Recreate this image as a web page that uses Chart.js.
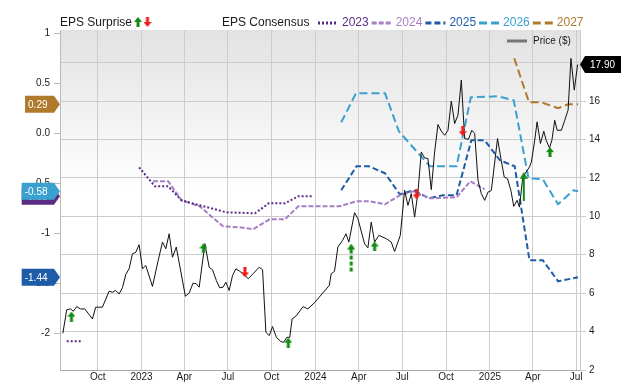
<!DOCTYPE html>
<html>
<head>
<meta charset="utf-8">
<title>EPS Consensus et cours</title>
<script src="https://cdn.jsdelivr.net/npm/chart.js@4.4.1/dist/chart.umd.min.js"></script>
<style>
  html, body { margin: 0; padding: 0; background: #fff; }
  #wrap { width: 640px; height: 382px; }
</style>
</head>
<body>
<div id="wrap"><canvas id="chart" width="640" height="382"></canvas></div>
<script>
// ── Données ──

const xMin = '2022-07-14';
const xMax = '2025-07-09';
const xTickDates = ['2022-10-01', '2023-01-01', '2023-04-01', '2023-07-01', '2023-10-01', '2024-01-01',
  '2024-04-01', '2024-07-01', '2024-10-01', '2025-01-01', '2025-04-01', '2025-07-01'];
const xTickLabels = ['Oct', '2023', 'Apr', 'Jul', 'Oct', '2024', 'Apr', 'Jul', 'Oct', '2025', 'Apr', 'Jul'];

const epsMin = -2.367;
const epsMax = 1.033;
const epsTicks = [1, 0.5, 0, -0.5, -1, -1.5, -2];
const epsTickLabels = ['1', '0.5', '0.0', '-0.5', '-1', '-1.5', '-2'];

const priceMin = 2;
const priceMax = 19.7;
const priceTicks = [2, 4, 6, 8, 10, 12, 14, 16, 18];

const priceDates = [
  '2022-07-20', '2022-07-28', '2022-08-05', '2022-08-11', '2022-08-18', '2022-08-26', '2022-09-04', '2022-09-20',
  '2022-09-27', '2022-10-11', '2022-10-25', '2022-11-01', '2022-11-08', '2022-11-15', '2022-11-22', '2022-11-29',
  '2022-12-06', '2022-12-13', '2022-12-20', '2022-12-27', '2023-01-03', '2023-01-10', '2023-01-24', '2023-02-05',
  '2023-02-14', '2023-02-21', '2023-02-28', '2023-03-07', '2023-03-15', '2023-04-03', '2023-04-11', '2023-04-19',
  '2023-04-26', '2023-05-02', '2023-05-14', '2023-05-23', '2023-05-30', '2023-06-07', '2023-06-14', '2023-06-21',
  '2023-06-27', '2023-07-04', '2023-07-11', '2023-07-18', '2023-07-26', '2023-08-04', '2023-08-13', '2023-08-23',
  '2023-09-05', '2023-09-12', '2023-09-19', '2023-09-26', '2023-10-03', '2023-10-11', '2023-10-20', '2023-10-26',
  '2023-11-02', '2023-11-08', '2023-11-13', '2023-11-22', '2023-12-06', '2023-12-16', '2023-12-31', '2024-01-16',
  '2024-01-30', '2024-02-03', '2024-02-10', '2024-02-17', '2024-02-27', '2024-03-05', '2024-03-11', '2024-03-23',
  '2024-03-30', '2024-04-13', '2024-04-20', '2024-04-27', '2024-05-04', '2024-05-13', '2024-05-29', '2024-06-08',
  '2024-06-15', '2024-06-27', '2024-07-06', '2024-07-13', '2024-07-20', '2024-07-27', '2024-08-03', '2024-08-10',
  '2024-08-17', '2024-08-24', '2024-08-31', '2024-09-07', '2024-09-14', '2024-09-21', '2024-09-28', '2024-10-05',
  '2024-10-12', '2024-10-19', '2024-10-26', '2024-11-02', '2024-11-09', '2024-11-17', '2024-11-24', '2024-11-30',
  '2024-12-07', '2024-12-14', '2024-12-21', '2024-12-28', '2025-01-04', '2025-01-17', '2025-01-24', '2025-01-31',
  '2025-02-07', '2025-02-14', '2025-02-20', '2025-02-27', '2025-03-04', '2025-03-11', '2025-03-18', '2025-03-25',
  '2025-03-29', '2025-04-05', '2025-04-10', '2025-04-17', '2025-04-24', '2025-04-29', '2025-05-06', '2025-05-11',
  '2025-05-17', '2025-05-22', '2025-05-31', '2025-06-07', '2025-06-14', '2025-06-20', '2025-06-27', '2025-07-04'];
const priceValues = [
  3.91, 5.13, 5.18, 5.06, 5.30, 5.18, 5.18, 4.66,
  5.27, 5.27, 6.10, 6.05, 6.14, 5.96, 6.28, 6.97,
  7.27, 8.05, 8.13, 8.52, 7.27, 7.44, 6.35, 7.70,
  8.66, 8.31, 9.09, 7.87, 8.40, 5.84, 6.00, 6.52,
  6.49, 6.31, 8.57, 7.35, 7.22, 6.66, 6.28, 6.31,
  6.57, 6.14, 6.92, 7.27, 7.14, 6.97, 6.75, 7.01,
  7.35, 7.22, 3.96, 3.79, 4.26, 3.70, 3.49, 3.44,
  3.70, 3.70, 4.66, 4.83, 5.30, 5.18, 5.53, 6.00,
  6.40, 7.01, 7.14, 8.40, 8.75, 9.09, 8.66, 10.19,
  9.88, 8.57, 8.36, 9.70, 8.66, 9.01, 8.83, 8.66,
  8.17, 9.01, 11.35, 10.57, 11.18, 9.96, 11.26, 13.35,
  13.04, 13.01, 11.39, 13.35, 14.78, 14.43, 14.22, 14.48,
  16.00, 14.83, 15.27, 17.09, 14.05, 14.01, 14.48, 14.31,
  11.87, 11.18, 10.83, 11.26, 11.35, 14.05, 13.01, 12.05,
  11.96, 11.35, 10.52, 10.83, 10.48, 12.05, 12.31, 12.57,
  12.83, 13.96, 14.92, 13.79, 14.43, 13.96, 13.56, 13.96,
  15.00, 14.48, 14.48, 15.00, 15.53, 18.22, 16.57, 17.90];

const eps2023Dates = ['2022-07-28', '2022-08-27', '2022-09-15', '2022-12-27', '2023-01-29', '2023-02-26', '2023-03-26',
  '2023-05-03', '2023-06-28', '2023-08-27', '2023-09-25', '2023-10-29', '2023-11-26', '2023-12-24'];
const eps2023Values = [-2.08, -2.08, null, -0.34, -0.53, -0.53, -0.67, -0.72, -0.79, -0.80, -0.70, -0.70, -0.63, -0.63];

const eps2024Dates = ['2023-01-25', '2023-02-26', '2023-03-26', '2023-05-03', '2023-06-21', '2023-07-26', '2023-08-23',
  '2023-09-27', '2023-10-29', '2023-11-26', '2023-12-27', '2024-02-21', '2024-03-13', '2024-03-27', '2024-04-24',
  '2024-05-26', '2024-06-26', '2024-07-24', '2024-08-28', '2024-10-23', '2024-11-21', '2024-12-21'];
const eps2024Values = [-0.48, -0.48, -0.67, -0.73, -0.93, -0.94, -0.96, -0.86, -0.86, -0.73, -0.73, -0.73, -0.70,
  -0.68, -0.68, -0.71, -0.62, -0.58, -0.65, -0.64, -0.48, -0.56];

const eps2025Dates = ['2024-02-24', '2024-03-27', '2024-04-22', '2024-05-26', '2024-06-26', '2024-07-25', '2024-08-26',
  '2024-09-24', '2024-10-23', '2024-11-23', '2024-12-21', '2025-01-22', '2025-02-22', '2025-03-25', '2025-04-22',
  '2025-05-24', '2025-07-05'];
const eps2025Values = [-0.57, -0.33, -0.33, -0.40, -0.61, -0.57, -0.65, -0.62, -0.62, -0.07, -0.07, -0.27, -0.33,
  -1.27, -1.27, -1.48, -1.44];

const eps2026Dates = ['2024-02-24', '2024-03-26', '2024-05-26', '2024-06-24', '2024-08-28', '2024-10-23', '2024-11-22',
  '2025-01-18', '2025-02-20', '2025-03-23', '2025-04-22', '2025-05-24', '2025-06-25', '2025-07-05'];
const eps2026Values = [0.11, 0.40, 0.40, 0.02, -0.33, -0.33, 0.36, 0.37, 0.33, -0.45, -0.46, -0.71, -0.57, -0.58];

const eps2027Dates = ['2025-02-21', '2025-03-24', '2025-04-19', '2025-05-24', '2025-06-14', '2025-07-05'];
const eps2027Values = [0.75, 0.31, 0.31, 0.25, 0.29, 0.29];

// Surprises BPA : position sur la courbe du cours
const surpriseDates = ['2022-08-07', '2023-05-11', '2023-08-06', '2023-11-05', '2024-03-16', '2024-05-04',
  '2024-07-31', '2024-11-05', '2025-03-13', '2025-05-07'];
const surprisePrices = [4.78, 8.33, 7.08, 3.42, 7.83, 8.43, 11.14, 14.43, 11.56, 13.34];
const surpriseKinds = ['beat', 'beat', 'miss', 'beat', 'beatLong', 'beat', 'miss', 'miss', 'beatBig', 'beat'];

// ── Styles ──

const FONT = '"Liberation Sans", Arial, sans-serif';
const GREEN = '#138a13';
const RED = '#ee1c1c';

const series = [
  { label: '2023', dates: eps2023Dates, values: eps2023Values, color: '#5b2b84', dash: [2, 2], badge: true },
  { label: '2024', dates: eps2024Dates, values: eps2024Values, color: '#a67fc4', dash: [5, 2], badge: false },
  { label: '2025', dates: eps2025Dates, values: eps2025Values, color: '#1f5ca8', dash: [6, 3], badge: true },
  { label: '2026', dates: eps2026Dates, values: eps2026Values, color: '#3aa0cf', dash: [8, 4], badge: true },
  { label: '2027', dates: eps2027Dates, values: eps2027Values, color: '#b07a2c', dash: [8, 4], badge: true },
];
// ordre de dessin des étiquettes (la dernière passe au-dessus)
const badgeOrder = ['2023', '2027', '2026', '2025'];

const toDay = s => (Date.parse(s) - Date.parse('2022-07-01')) / 86400000;
const pts = (dates, values) => dates.map((d, i) => ({ x: toDay(d), y: values[i] }));

function fleche(color, dir, o) {
  const c = document.createElement('canvas');
  c.width = o.headW;
  c.height = o.headH + o.shaft;
  const g = c.getContext('2d');
  g.fillStyle = color;
  g.strokeStyle = color;
  if (dir === 'down') { g.translate(0, c.height); g.scale(1, -1); }
  const cx = o.headW / 2;
  g.beginPath();
  g.moveTo(cx, 0);
  g.lineTo(o.headW, o.headH);
  g.lineTo(0, o.headH);
  g.closePath();
  g.fill();
  g.lineWidth = o.shaftW;
  if (o.dashed) g.setLineDash([4, 2]);
  g.beginPath();
  g.moveTo(cx, o.headH);
  g.lineTo(cx, c.height);
  g.stroke();
  return c;
}

const arrows = {
  beat: fleche(GREEN, 'up', { headW: 8, headH: 5, shaft: 5, shaftW: 3 }),
  miss: fleche(RED, 'down', { headW: 8, headH: 5, shaft: 5, shaftW: 3 }),
  beatLong: fleche(GREEN, 'up', { headW: 8, headH: 6, shaft: 23, shaftW: 3, dashed: true }),
  beatBig: fleche(GREEN, 'up', { headW: 8, headH: 7, shaft: 22, shaftW: 2 }),
};

// ── Plugins ──

const fondPlugin = {
  id: 'fond',
  beforeDraw(chart) {
    const { ctx, chartArea: a } = chart;
    const g = ctx.createLinearGradient(0, a.top, 0, a.bottom);
    g.addColorStop(0, '#e2e2e2');
    g.addColorStop(0.47, '#ffffff');
    g.addColorStop(1, '#ffffff');
    ctx.save();
    ctx.fillStyle = g;
    ctx.fillRect(a.left, a.top, a.right - a.left, a.bottom - a.top);
    ctx.restore();
  },
};

const legendePlugin = {
  id: 'legende',
  afterDraw(chart) {
    const ctx = chart.ctx;
    ctx.save();
    ctx.font = '12px ' + FONT;
    ctx.textBaseline = 'middle';
    ctx.fillStyle = '#1a1a1a';
    ctx.fillText('EPS Surprise', 60, 23);
    ctx.drawImage(arrows.beat, 138 - 4, 17);
    ctx.drawImage(arrows.miss, 147.5 - 4, 17);
    ctx.fillText('EPS Consensus', 222, 23);

    let x = 318;
    series.forEach(s => {
      ctx.beginPath();
      ctx.setLineDash(s.dash);
      ctx.strokeStyle = s.color;
      ctx.lineWidth = 3;
      ctx.moveTo(x, 23);
      ctx.lineTo(x + 20, 23);
      ctx.stroke();
      ctx.setLineDash([]);
      x += 24;
      ctx.fillStyle = s.color;
      ctx.fillText(s.label, x, 23);
      x += ctx.measureText(s.label).width + 3;
    });

    // légende du cours, dans la zone du graphique
    ctx.beginPath();
    ctx.strokeStyle = '#777';
    ctx.lineWidth = 3;
    ctx.moveTo(507, 41);
    ctx.lineTo(527, 41);
    ctx.stroke();
    ctx.font = '10px ' + FONT;
    ctx.fillStyle = '#1a1a1a';
    ctx.fillText('Price ($)', 533, 41);
    ctx.restore();
  },
};

function badgeGauche(ctx, tipX, y, text, color) {
  const tw = ctx.measureText(text).width;
  const right = tipX - 6;
  const left = right - tw - 9.5;
  const h = 17;
  ctx.beginPath();
  ctx.moveTo(left, y - h / 2);
  ctx.lineTo(right, y - h / 2);
  ctx.lineTo(tipX, y);
  ctx.lineTo(right, y + h / 2);
  ctx.lineTo(left, y + h / 2);
  ctx.closePath();
  ctx.fillStyle = color;
  ctx.fill();
  ctx.fillStyle = '#fff';
  ctx.fillText(text, left + 3, y + 0.5);
}

function badgeDroite(ctx, tipX, y, text, color) {
  const tw = ctx.measureText(text).width;
  const left = tipX + 5;
  const right = left + tw + 11;
  const h = 17;
  ctx.beginPath();
  ctx.moveTo(tipX, y);
  ctx.lineTo(left, y - h / 2);
  ctx.lineTo(right, y - h / 2);
  ctx.lineTo(right, y + h / 2);
  ctx.lineTo(left, y + h / 2);
  ctx.closePath();
  ctx.fillStyle = color;
  ctx.fill();
  ctx.fillStyle = '#fff';
  ctx.fillText(text, left + 5, y + 0.5);
}

const badgePlugin = {
  id: 'badges',
  afterDraw(chart) {
    const { ctx, chartArea: a } = chart;
    const yEps = chart.scales.yEps;
    const yPrice = chart.scales.yPrice;
    ctx.save();
    ctx.font = '10px ' + FONT;
    ctx.textBaseline = 'middle';
    badgeOrder.forEach(lbl => {
      const s = series.find(e => e.label === lbl);
      const last = s.values[s.values.length - 1];
      badgeGauche(ctx, a.left, yEps.getPixelForValue(last), last.toFixed(2), s.color);
    });
    const lastPrice = priceValues[priceValues.length - 1];
    badgeDroite(ctx, a.right, yPrice.getPixelForValue(lastPrice), lastPrice.toFixed(2), '#000');
    ctx.restore();
  },
};

// ── Graphique ──

Chart.defaults.font.family = FONT;
Chart.defaults.font.size = 10;
Chart.defaults.color = '#1a1a1a';

const datasets = [
  {
    label: 'EPS Surprise',
    data: pts(surpriseDates, surprisePrices),
    yAxisID: 'yPrice',
    showLine: false,
    pointRadius: 5,
    pointStyle: ctx => arrows[surpriseKinds[ctx.dataIndex]],
  },
  {
    label: 'Price ($)',
    data: pts(priceDates, priceValues),
    yAxisID: 'yPrice',
    borderColor: '#111',
    borderWidth: 1,
    pointRadius: 0,
    tension: 0,
  },
  ...series.map(s => ({
    label: s.label,
    data: pts(s.dates, s.values),
    yAxisID: 'yEps',
    borderColor: s.color,
    borderWidth: 2,
    borderDash: s.dash,
    pointRadius: 0,
    spanGaps: false,
    tension: 0,
  })),
];

new Chart(document.getElementById('chart'), {
  type: 'line',
  data: { datasets },
  plugins: [fondPlugin, legendePlugin, badgePlugin],
  options: {
    responsive: false,
    devicePixelRatio: 1,
    animation: false,
    layout: { padding: { top: 30, left: 0, right: 0, bottom: 0 } },
    plugins: { legend: { display: false }, tooltip: { enabled: false } },
    scales: {
      x: {
        type: 'linear',
        min: toDay(xMin),
        max: toDay(xMax),
        afterBuildTicks: s => { s.ticks = xTickDates.map(d => ({ value: toDay(d) })); },
        afterFit: s => { s.height = 12; },
        grid: { color: '#cccccc', drawTicks: false },
        border: { color: '#aaaaaa' },
        ticks: {
          padding: 1,
          maxRotation: 0,
          autoSkip: false,
          callback: (v, i) => xTickLabels[i],
        },
      },
      yEps: {
        position: 'left',
        min: epsMin,
        max: epsMax,
        afterBuildTicks: s => { s.ticks = epsTicks.map(v => ({ value: v })); },
        afterFit: s => { s.width = 60; },
        grid: { drawOnChartArea: false, drawTicks: true, tickLength: 6, color: '#bbbbbb' },
        border: { color: '#bbbbbb' },
        ticks: { padding: 4, autoSkip: false, callback: (v, i) => epsTickLabels[i] },
      },
      yPrice: {
        position: 'right',
        min: priceMin,
        max: priceMax,
        afterBuildTicks: s => { s.ticks = priceTicks.map(v => ({ value: v })); },
        afterFit: s => { s.width = 60; },
        grid: { color: '#cccccc', drawTicks: true, tickLength: 6 },
        border: { color: '#cccccc' },
        ticks: { padding: 3, autoSkip: false },
      },
    },
  },
});
</script>
</body>
</html>
